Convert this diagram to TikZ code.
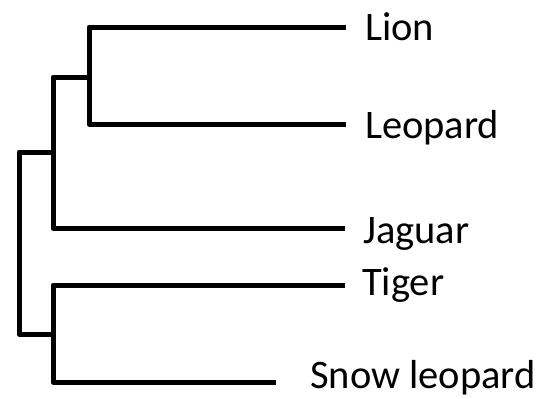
\documentclass[tikz,border=0pt]{standalone}
\usepackage{fontspec}
\setmainfont{Carlito}
\begin{document}
\begin{tikzpicture}[x=1pt,y=-1pt,
  branch/.style={draw=black,line width=5pt,line join=round},
  taxon/.style={anchor=base west,inner sep=0pt,font=\fontsize{40.5}{45}\selectfont}]
\useasboundingbox (0,0) rectangle (550,399);
% branch tips
\coordinate (tLion) at (346,27);
\coordinate (tLeopard) at (346,124);
\coordinate (tJaguar) at (345,228);
\coordinate (tTiger) at (345,285);
\coordinate (tSnow) at (276,382);
% internal nodes
\coordinate (nB) at (89,77);
\coordinate (nA) at (53,152);
\coordinate (nC) at (53,334);
\coordinate (root) at (19,243);
% taxon labels
\node[taxon] (lion) at (365,40) {Lion};
\node[taxon] (leopard) at (365,138) {Leopard};
\node[taxon] (jaguar) at (363,243) {Jaguar};
\node[taxon] (tiger) at (362,295) {Tiger};
\node[taxon] (snow) at (310,388) {Snow leopard};
% tree
\draw[branch] (tLion) -| (nB) |- (tLeopard);
\draw[branch] (nB) -| (nA) |- (tJaguar);
\draw[branch] (nA) -| (root) |- (nC);
\draw[branch] (tTiger) -| (nC) |- (tSnow);
\end{tikzpicture}
\end{document}
